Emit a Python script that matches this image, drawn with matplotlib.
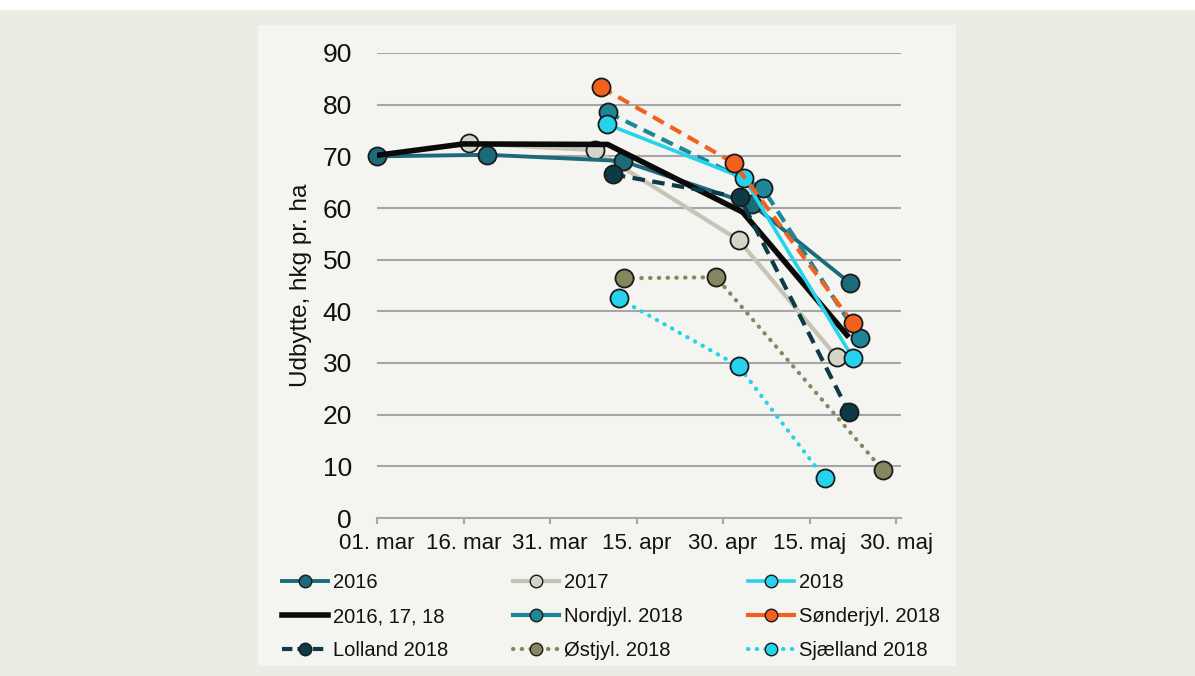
import matplotlib
matplotlib.use("Agg")
import matplotlib.pyplot as plt
from matplotlib.patches import Rectangle
from matplotlib.lines import Line2D

plt.rcParams['font.family'] = ['Liberation Sans', 'DejaVu Sans']

# x = days after 1 March
tick_days = [0, 15, 30, 45, 60, 75, 90]
tick_labels = ["01. mar", "16. mar", "31. mar", "15. apr", "30. apr", "15. maj", "30. maj"]
y_ticks = [0, 10, 20, 30, 40, 50, 60, 70, 80, 90]

x_2016 = [0, 19.1, 42.6, 65.0, 82.0]
y_2016 = [70.0, 70.3, 69.1, 60.7, 45.5]
x_2017 = [16.0, 37.8, 62.7, 79.7]
y_2017 = [72.5, 71.2, 53.8, 31.2]
x_2018 = [39.9, 63.6, 82.5]
y_2018 = [76.2, 65.8, 31.0]
x_avg = [0, 15, 40, 63.4, 81.5]
y_avg = [70.2, 72.4, 72.3, 59.2, 35.4]
x_nord = [40.0, 66.9, 83.7]
y_nord = [78.5, 63.8, 34.8]
x_sond = [38.8, 61.9, 82.5]
y_sond = [83.4, 68.7, 37.7]
x_loll = [40.9, 62.9, 81.8]
y_loll = [66.5, 62.1, 20.5]
x_ost = [42.8, 58.8, 87.7]
y_ost = [46.4, 46.6, 9.3]
x_sjael = [41.9, 62.7, 77.6]
y_sjael = [42.5, 29.4, 7.7]

W, H = 1195, 676
fig = plt.figure(figsize=(W / 100, H / 100), dpi=100, facecolor="#ecebe4")

bg = fig.add_axes([0, 0, 1, 1], zorder=-10)
bg.set_xlim(0, W)
bg.set_ylim(H, 0)
bg.axis("off")
bg.add_patch(Rectangle((0, 0), W, 10, facecolor="white", edgecolor="none"))
bg.add_patch(Rectangle((258, 25), 956 - 258, 666 - 25, facecolor="#f4f4f0", edgecolor="none"))

ax_l, ax_r = 377, 901
ax_b, ax_t = 518, 53
ax = fig.add_axes([ax_l / W, 1 - ax_b / H, (ax_r - ax_l) / W, (ax_b - ax_t) / H], zorder=1)
ax.set_facecolor("none")
ax.set_xlim(0, (ax_r - ax_l) / 5.767)
ax.set_ylim(0, 90)

for s in ["top", "right", "left"]:
    ax.spines[s].set_visible(False)
ax.spines["bottom"].set_color("#a6a6a6")
ax.spines["bottom"].set_linewidth(1.5)
ax.set_yticks(y_ticks)
ax.set_xticks(tick_days)
ax.set_xticklabels(tick_labels)
ax.tick_params(axis="y", length=0, pad=18, labelsize=19, labelcolor="#111111")
ax.tick_params(axis="x", length=4, width=1.5, color="#a6a6a6", pad=7,
               labelsize=16, labelcolor="#111111")
ax.yaxis.grid(True, color="#a6a6a6", linewidth=1.5)
ax.set_axisbelow(True)
ax.set_ylabel("Udbytte, hkg pr. ha", fontsize=17.5, color="#111111", labelpad=8)

ms = 13
mew = 1.3
DASH = (0, (3, 1.8))
DOT = (0, (0.1, 2.0))

def series(x, y, color, mfc, ls, lw, z=3, label=""):
    line, = ax.plot(x, y, color=color, linestyle=ls, linewidth=lw, marker="o",
                    markersize=ms, markerfacecolor=mfc, markeredgecolor="#1a1a1a",
                    markeredgewidth=mew, zorder=z, clip_on=False, label=label,
                    dash_capstyle="butt")
    return line

h2017 = series(x_2017, y_2017, "#c6c4b6", "#d6d4c6", "-", 3, z=3, label="2017")
h2016 = series(x_2016, y_2016, "#1b6b7b", "#1b6b7b", "-", 2.8, z=4, label="2016")
havg, = ax.plot(x_avg, y_avg, color="#0a0a0a", linewidth=4, zorder=5, label="2016, 17, 18")
hloll = series(x_loll, y_loll, "#0d3a47", "#0d3a47", DASH, 3, z=6, label="Lolland 2018")
hnord = series(x_nord, y_nord, "#1d8797", "#1d8797", DASH, 3, z=6, label="Nordjyl. 2018")
h2018 = series(x_2018, y_2018, "#25d4ec", "#25d4ec", "-", 2.6, z=7, label="2018")
hsond = series(x_sond, y_sond, "#f2621e", "#f2621e", DASH, 3, z=8, label="Sønderjyl. 2018")
host = series(x_ost, y_ost, "#87875f", "#87875f", DOT, 3, z=6, label="Østjyl. 2018")
hsjael = series(x_sjael, y_sjael, "#25d4ec", "#25d4ec", DOT, 3, z=6, label="Sjælland 2018")
for h in (host, hsjael):
    h.set_dash_capstyle("round")

entries = [(h2016, "-"), (havg, "-"), (hloll, (0, (2.5, 1.2))), (h2017, "-"), (hnord, "-"),
           (host, DOT), (h2018, "-"), (hsond, "-"), (hsjael, DOT)]
leg_handles = []
for h, ls in entries:
    lh = Line2D([], [], color=h.get_color(), linestyle=ls,
                linewidth=h.get_linewidth(), marker=h.get_marker(), markersize=9,
                markerfacecolor=h.get_markerfacecolor(), markeredgecolor="#1a1a1a",
                markeredgewidth=1.0, dash_capstyle=h.get_dash_capstyle())
    leg_handles.append(lh)

leg = fig.legend(handles=leg_handles, labels=[h.get_label() for h, _ in entries],
                 ncol=3, loc="upper left", bbox_to_anchor=(274 / W, 1 - 565 / H),
                 frameon=False, fontsize=14.5, handlelength=2.3, handletextpad=0.25,
                 columnspacing=3.2, labelspacing=0.75, borderaxespad=0)
for t in leg.get_texts():
    t.set_color("#111111")

fig.savefig("out.png", dpi=100, facecolor=fig.get_facecolor())
